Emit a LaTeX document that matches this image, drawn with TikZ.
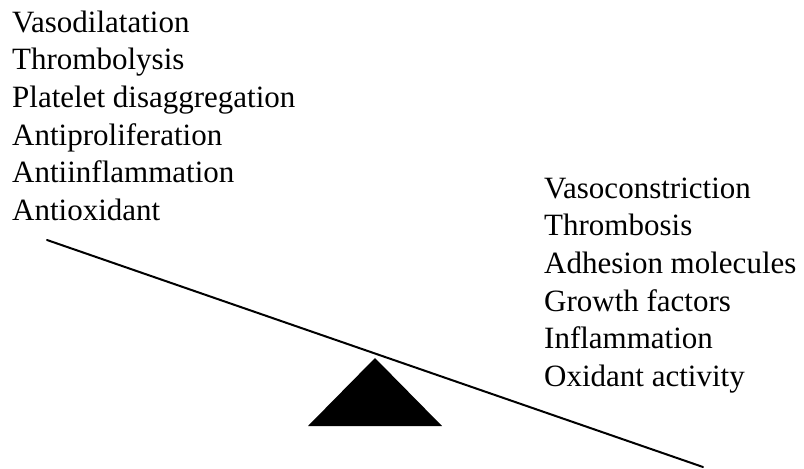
\documentclass[tikz,border=0pt]{standalone}
\usepackage{fontspec}
\setmainfont{Liberation Serif}
\usepackage{tikz}
\usetikzlibrary{matrix}
\newcommand{\effect}[1]{{\fontsize{31}{37}\selectfont #1}}

\begin{document}
\begin{tikzpicture}[x=1pt,y=-1pt]
  \useasboundingbox (0,0) rectangle (804,469);
  \tikzset{
    list/.style={matrix of nodes,row sep=8.6pt,inner sep=0pt,
      nodes={anchor=base west,inner sep=0pt,text height=21pt,text depth=8pt}},
    beam/.style={line width=2pt,line cap=round}
  }
  \matrix (good) [list,anchor=north west] at (12,11)
  { \effect{Vasodilatation} \\
    \effect{Thrombolysis} \\
    \effect{Platelet disaggregation} \\
    \effect{Antiproliferation} \\
    \effect{Antiinflammation} \\
    \effect{Antioxidant} \\};
  \matrix (bad) [list,anchor=north west] at (544,177)
  { \effect{Vasoconstriction} \\
    \effect{Thrombosis} \\
    \effect{Adhesion molecules} \\
    \effect{Growth factors} \\
    \effect{Inflammation} \\
    \effect{Oxidant activity} \\};
  \coordinate (left end) at (47,240);
  \coordinate (right end) at (703,467);
  \coordinate (pivot) at (375,358);
  \draw[beam] (left end) -- (right end);
  \fill (pivot) -- (442,426) -- (308,426) -- cycle;
\end{tikzpicture}
\end{document}
